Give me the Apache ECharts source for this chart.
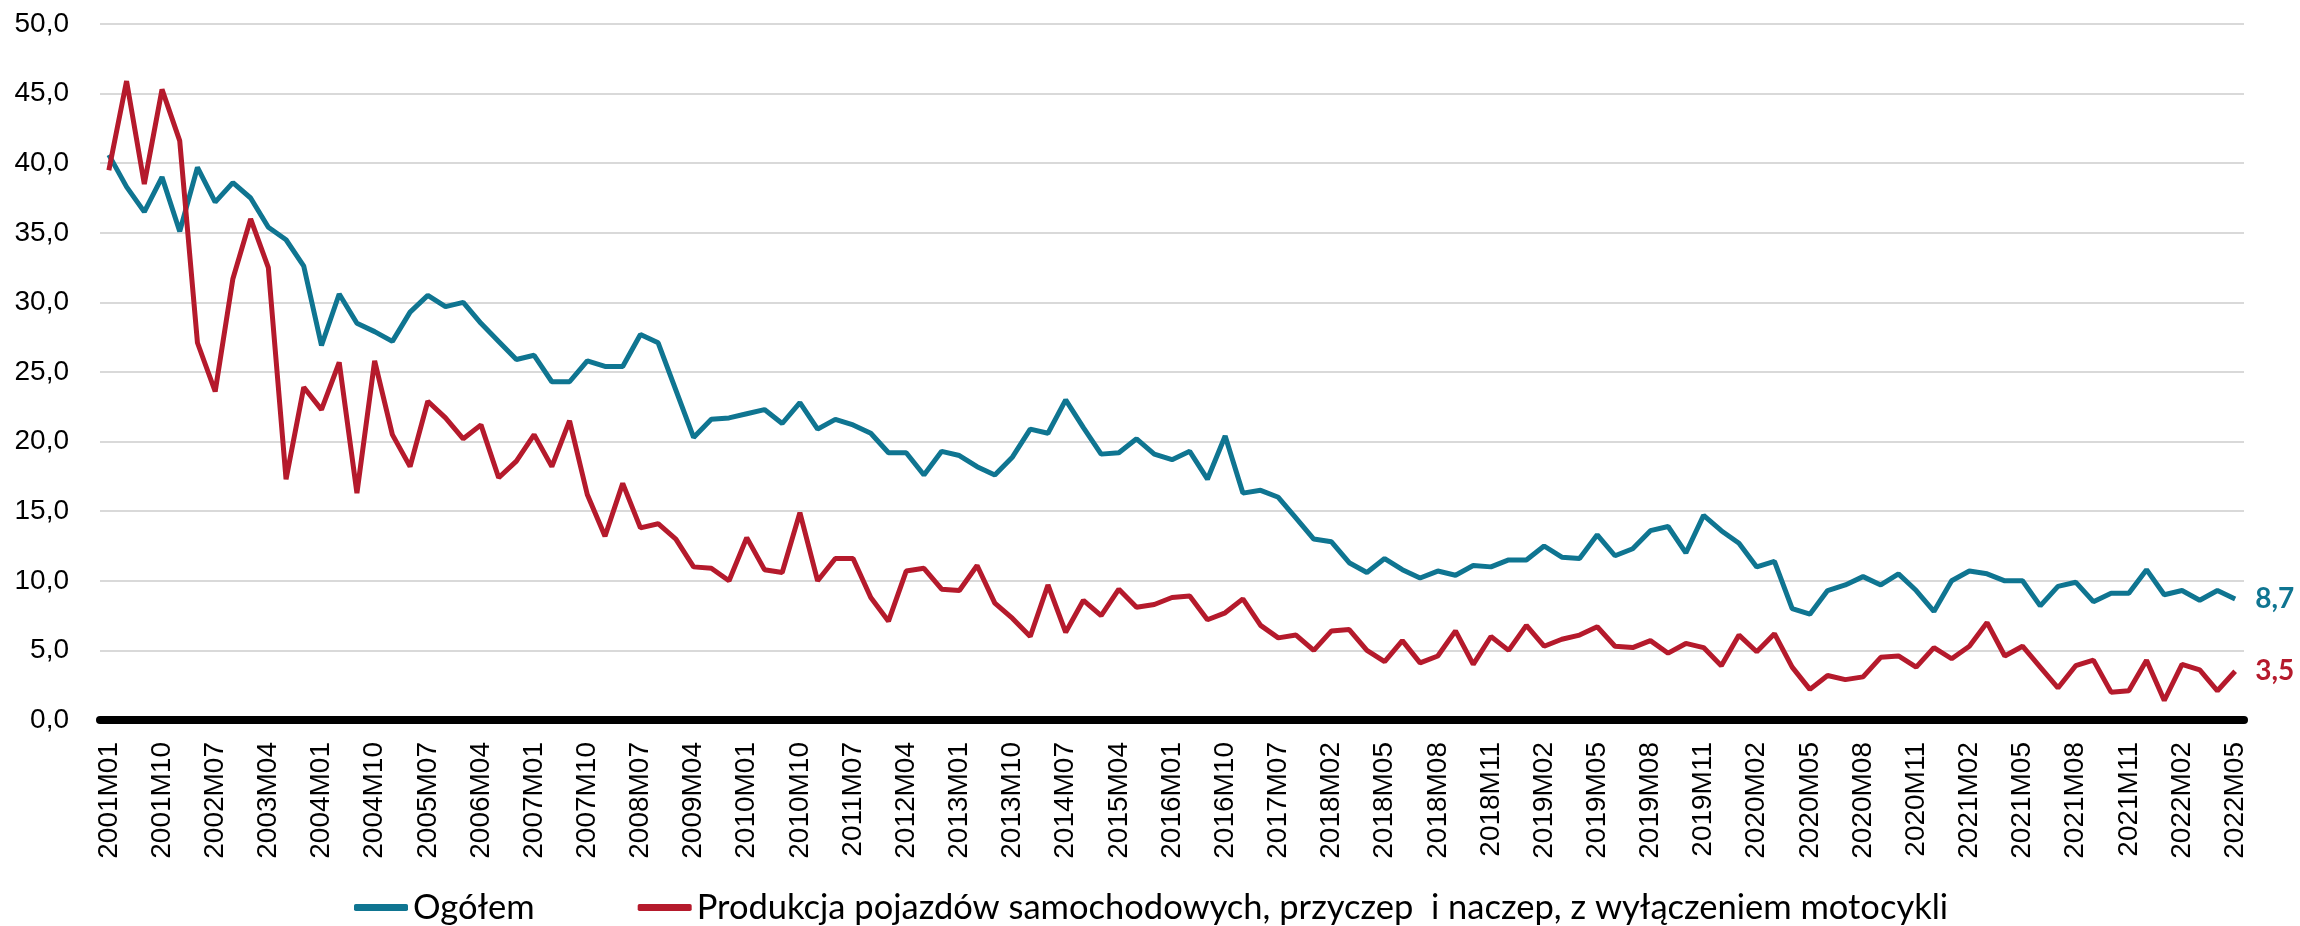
<!DOCTYPE html>
<html>
<head>
<meta charset="utf-8">
<script src="https://cdn.jsdelivr.net/npm/echarts@6/dist/echarts.min.js"></script>
<style>
  html, body { margin: 0; padding: 0; background: #ffffff; }
  #chart { width: 2300px; height: 926px; }
</style>
</head>
<body>
<div id="chart"></div>
<script>
const categories = [
  '2001M01','2001M04','2001M07','2001M10','2002M01','2002M04','2002M07','2002M10',
  '2003M01','2003M04','2003M07','2003M10','2004M01','2004M04','2004M07','2004M10',
  '2005M01','2005M04','2005M07','2005M10','2006M01','2006M04','2006M07','2006M10',
  '2007M01','2007M04','2007M07','2007M10','2008M01','2008M04','2008M07','2008M10',
  '2009M01','2009M04','2009M07','2009M10','2010M01','2010M04','2010M07','2010M10',
  '2011M01','2011M04','2011M07','2011M10','2012M01','2012M04','2012M07','2012M10',
  '2013M01','2013M04','2013M07','2013M10','2014M01','2014M04','2014M07','2014M10',
  '2015M01','2015M04','2015M07','2015M10','2016M01','2016M04','2016M07','2016M10',
  '2017M01','2017M04','2017M07','2017M10',
  '2018M01','2018M02','2018M03','2018M04','2018M05','2018M06','2018M07','2018M08','2018M09','2018M10','2018M11','2018M12',
  '2019M01','2019M02','2019M03','2019M04','2019M05','2019M06','2019M07','2019M08','2019M09','2019M10','2019M11','2019M12',
  '2020M01','2020M02','2020M03','2020M04','2020M05','2020M06','2020M07','2020M08','2020M09','2020M10','2020M11','2020M12',
  '2021M01','2021M02','2021M03','2021M04','2021M05','2021M06','2021M07','2021M08','2021M09','2021M10','2021M11','2021M12',
  '2022M01','2022M02','2022M03','2022M04','2022M05'
];

const ogolem = [
  40.6, 38.3, 36.5, 39.0, 35.1, 39.7, 37.2, 38.6, 37.5, 35.4,
  34.5, 32.6, 26.9, 30.6, 28.5, 27.9, 27.2, 29.3, 30.5, 29.7,
  30.0, 28.5, 27.2, 25.9, 26.2, 24.3, 24.3, 25.8, 25.4, 25.4,
  27.7, 27.1, 23.7, 20.3, 21.6, 21.7, 22.0, 22.3, 21.3, 22.8,
  20.9, 21.6, 21.2, 20.6, 19.2, 19.2, 17.6, 19.3, 19.0, 18.2,
  17.6, 18.9, 20.9, 20.6, 23.0, 21.0, 19.1, 19.2, 20.2, 19.1,
  18.7, 19.3, 17.3, 20.4, 16.3, 16.5, 16.0, 14.5, 13.0, 12.8,
  11.3, 10.6, 11.6, 10.8, 10.2, 10.7, 10.4, 11.1, 11.0, 11.5,
  11.5, 12.5, 11.7, 11.6, 13.3, 11.8, 12.3, 13.6, 13.9, 12.0,
  14.7, 13.6, 12.7, 11.0, 11.4, 8.0, 7.6, 9.3, 9.7, 10.3,
  9.7, 10.5, 9.3, 7.8, 10.0, 10.7, 10.5, 10.0, 10.0, 8.2,
  9.6, 9.9, 8.5, 9.1, 9.1, 10.8, 9.0, 9.3, 8.6, 9.3,
  8.7
];

const pojazdy = [
  39.5, 45.9, 38.5, 45.3, 41.6, 27.1, 23.6, 31.7, 36.0, 32.5,
  17.3, 23.9, 22.3, 25.7, 16.3, 25.8, 20.5, 18.2, 22.9, 21.7,
  20.2, 21.2, 17.4, 18.6, 20.5, 18.2, 21.5, 16.2, 13.2, 17.0,
  13.8, 14.1, 13.0, 11.0, 10.9, 10.0, 13.1, 10.8, 10.6, 14.9,
  10.0, 11.6, 11.6, 8.8, 7.1, 10.7, 10.9, 9.4, 9.3, 11.1,
  8.4, 7.3, 6.0, 9.7, 6.3, 8.6, 7.5, 9.4, 8.1, 8.3,
  8.8, 8.9, 7.2, 7.7, 8.7, 6.8, 5.9, 6.1, 5.0, 6.4,
  6.5, 5.0, 4.2, 5.7, 4.1, 4.6, 6.4, 4.0, 6.0, 5.0,
  6.8, 5.3, 5.8, 6.1, 6.7, 5.3, 5.2, 5.7, 4.8, 5.5,
  5.2, 3.9, 6.1, 4.9, 6.2, 3.8, 2.2, 3.2, 2.9, 3.1,
  4.5, 4.6, 3.8, 5.2, 4.4, 5.3, 7.0, 4.6, 5.3, 3.8,
  2.3, 3.9, 4.3, 2.0, 2.1, 4.3, 1.4, 4.0, 3.6, 2.1,
  3.5
];

const seriesNames = [
  'Ogółem',
  'Produkcja pojazdów samochodowych, przyczep  i naczep, z wyłączeniem motocykli'
];

const TEAL = '#0f7591';
const RED = '#b51a2c';
const fmt = v => Number(v).toFixed(1).replace('.', ',');

const chart = echarts.init(document.getElementById('chart'), null, { renderer: 'canvas' });
chart.setOption({
  animation: false,
  backgroundColor: '#ffffff',
  grid: { left: 100, right: 56, top: 24, bottom: 206, containLabel: false, outerBoundsMode: 'none' },
  legend: {
    left: 349,
    top: 885,
    itemWidth: 54,
    itemHeight: 7,
    itemGap: 103,
    icon: 'roundRect',
    textStyle: { fontFamily: 'Lato', fontSize: 34.5, color: '#000000' },
    data: seriesNames
  },
  xAxis: {
    type: 'category',
    data: categories,
    boundaryGap: true,
    axisLine: { show: true, lineStyle: { color: '#000000', width: 8 } },
    axisTick: { show: false },
    axisLabel: {
      interval: 2,
      rotate: 90,
      margin: 22,
      fontFamily: 'Liberation Sans',
      fontSize: 28,
      color: '#000000'
    },
    splitLine: { show: false }
  },
  yAxis: {
    type: 'value',
    min: 0,
    max: 50,
    interval: 5,
    axisLine: { show: false },
    axisTick: { show: false },
    axisLabel: {
      margin: 31,
      fontFamily: 'Liberation Sans',
      fontSize: 28,
      color: '#000000',
      formatter: v => fmt(v)
    },
    splitLine: { show: true, lineStyle: { color: '#d9d9d9', width: 2 } }
  },
  series: [
    {
      name: seriesNames[0],
      type: 'line',
      data: ogolem,
      showSymbol: false,
      symbol: 'none',
      color: TEAL,
      lineStyle: { color: TEAL, width: 5 },
      endLabel: {
        show: true,
        distance: 20,
        formatter: p => fmt(p.value),
        color: TEAL,
        fontFamily: 'Lato',
        fontWeight: 'bold',
        fontSize: 28
      }
    },
    {
      name: seriesNames[1],
      type: 'line',
      data: pojazdy,
      showSymbol: false,
      symbol: 'none',
      color: RED,
      lineStyle: { color: RED, width: 5 },
      endLabel: {
        show: true,
        distance: 20,
        formatter: p => fmt(p.value),
        color: RED,
        fontFamily: 'Lato',
        fontWeight: 'bold',
        fontSize: 28
      }
    }
  ]
});
</script>
</body>
</html>
